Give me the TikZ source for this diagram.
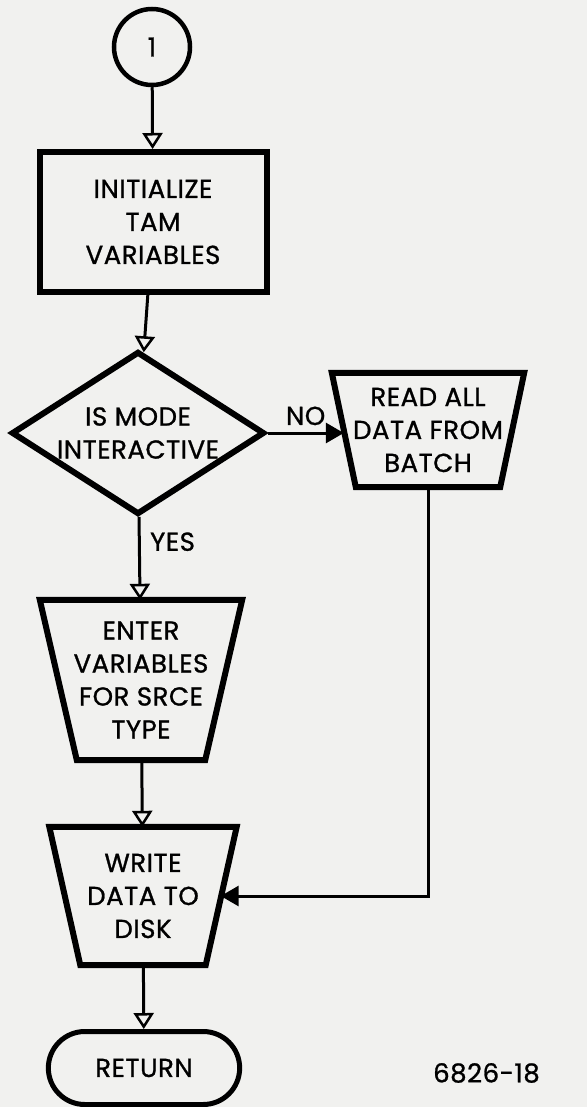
\documentclass[tikz,border=0pt]{standalone}
\usepackage{fontspec}
\setmainfont{Poppins}[LetterSpace=2, FakeBold=1]
\usetikzlibrary{positioning,shapes.geometric,shapes.misc,arrows.meta}
\definecolor{paper}{RGB}{241,241,239}
\tikzset{
  box/.style={draw, line width=6pt, align=center, inner sep=0pt},
  trap/.style={rectangle, align=center, inner sep=0pt},
  flow/.style={line width=3pt, -{Triangle[open, width=20pt, length=16pt, line width=2.5pt]}},
  flowfill/.style={line width=3pt, -{Triangle[width=20pt, length=18pt]}},
}
\newcommand{\trapline}[2]{\draw[line width=6pt, line join=miter]
  (#1.north west) -- (#1.north east) -- ([xshift=-#2]#1.south east) -- ([xshift=#2]#1.south west) -- cycle;}

\begin{document}
\begin{tikzpicture}[x=1pt, y=-1pt, font=\fontsize{26}{33}\selectfont]
    \fill[paper] (0,0) rectangle (587,1107);
    \useasboundingbox (0,0) rectangle (587,1107);

    \node (start) [draw, circle, line width=4.5pt, minimum size=76pt, inner sep=0pt] at (152,47) {1};
    \node (init) [box, rectangle, minimum width=227pt, minimum height=140pt] at (153,222) {INITIALIZE\\TAM\\VARIABLES};
    \node (mode) [box, shape=diamond, aspect=1.55, minimum width=253pt, minimum height=163pt] at (138,433) {IS MODE\\INTERACTIVE};
    \node (read) [trap, minimum width=192pt, minimum height=114pt] at (428,430) {READ ALL\\DATA FROM\\BATCH};
    \node (enter) [trap, minimum width=202pt, minimum height=160pt] at (141,680) {ENTER\\VARIABLES\\FOR SRCE\\TYPE};
    \node (write) [trap, minimum width=187pt, minimum height=138pt] at (143,896) {WRITE\\DATA TO\\DISK};
    \node (ret) [draw, shape=rounded rectangle, line width=5pt, minimum width=198pt, minimum height=73pt] at (144,1068) {RETURN};
    \node (fig) [anchor=west, inner sep=0pt] at (433,1073) {6826-18};
    \trapline{read}{24pt}
    \trapline{enter}{37pt}
    \trapline{write}{31pt}
    \coordinate (readin) at ([xshift=12pt]read.west);
    \coordinate (writein) at ([xshift=-16pt]write.east);

    \draw[flow] (start) -- (init);
    \draw[flow] (init) -- (mode);
    \draw[flowfill] (mode.east) -- node[above=3pt] {NO} (mode.east -| readin);
    \draw[flow] (mode) -- node[pos=0.3, right=6pt] {YES} (enter);
    \draw[flow] (enter) -- (write);
    \draw[flowfill] (read.south) |- (writein);
    \draw[flow] (write) -- (ret);
\end{tikzpicture}
\end{document}
